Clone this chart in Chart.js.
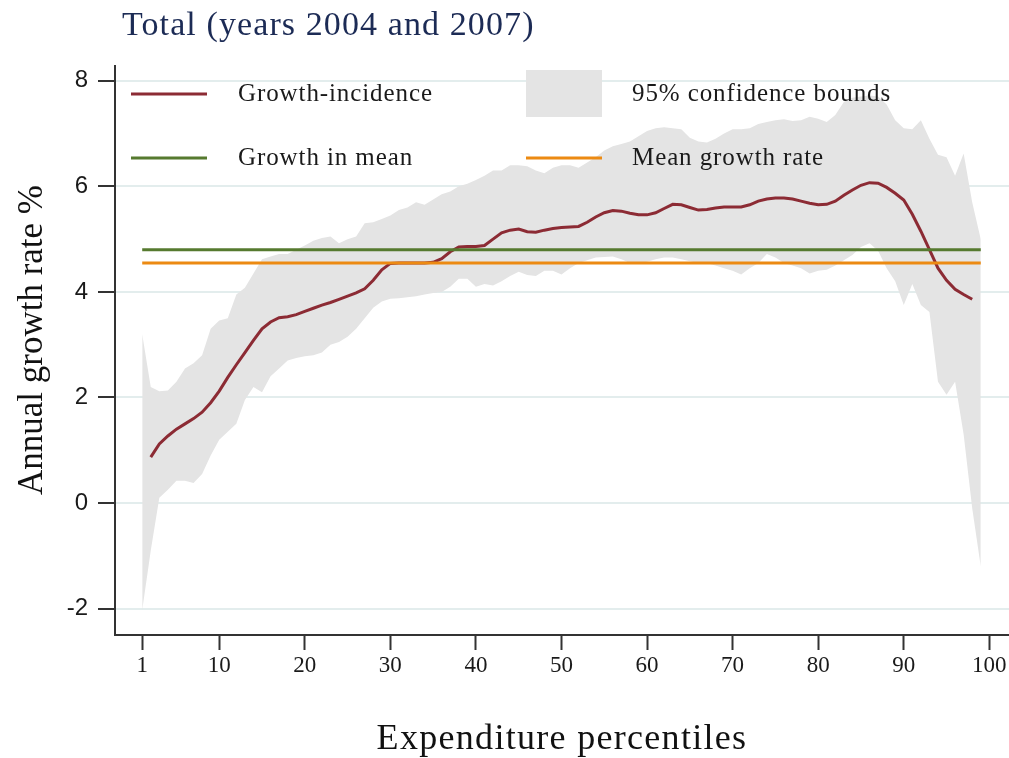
<!DOCTYPE html>
<html><head><meta charset="utf-8">
<script src="https://cdn.jsdelivr.net/npm/chart.js@4.4.1/dist/chart.umd.min.js"></script>
<style>html,body{margin:0;padding:0;background:#fff;} #wrap{width:1009px;height:758px;position:relative;}</style>
</head><body><div id="wrap"><canvas id="c" width="1009" height="758"></canvas></div>
<script>
const percentiles = [1,2,3,4,5,6,7,8,9,10,11,12,13,14,15,16,17,18,19,20,21,22,23,24,25,26,27,28,29,30,31,32,33,34,35,36,37,38,39,40,41,42,43,44,45,46,47,48,49,50,51,52,53,54,55,56,57,58,59,60,61,62,63,64,65,66,67,68,69,70,71,72,73,74,75,76,77,78,79,80,81,82,83,84,85,86,87,88,89,90,91,92,93,94,95,96,97,98,99];
const ciUpper = [3.2,2.2,2.12,2.13,2.3,2.55,2.65,2.8,3.3,3.46,3.5,3.95,4.08,4.35,4.62,4.67,4.72,4.72,4.8,4.88,4.97,5.02,5.05,4.92,5.0,5.05,5.3,5.32,5.38,5.45,5.55,5.6,5.7,5.65,5.75,5.85,5.9,6.0,6.05,6.12,6.2,6.3,6.3,6.4,6.4,6.38,6.3,6.25,6.35,6.4,6.4,6.35,6.45,6.55,6.68,6.76,6.8,6.85,6.95,7.05,7.1,7.12,7.1,7.08,6.92,6.85,6.83,6.9,7.0,7.08,7.08,7.1,7.18,7.22,7.25,7.27,7.24,7.25,7.32,7.28,7.22,7.35,7.6,7.68,7.7,7.72,7.7,7.55,7.25,7.1,7.08,7.25,6.9,6.6,6.55,6.2,6.62,5.7,5.0];
const ciLower = [-2.03,-0.9,0.1,0.25,0.42,0.42,0.38,0.55,0.9,1.2,1.35,1.5,1.95,2.2,2.1,2.4,2.55,2.7,2.75,2.78,2.8,2.85,3.0,3.05,3.15,3.3,3.5,3.7,3.82,3.87,3.88,3.9,3.92,3.95,3.98,4.0,4.1,4.25,4.25,4.1,4.15,4.12,4.2,4.3,4.38,4.32,4.3,4.4,4.4,4.33,4.45,4.55,4.6,4.65,4.66,4.67,4.62,4.55,4.55,4.57,4.62,4.65,4.65,4.62,4.58,4.55,4.55,4.5,4.45,4.4,4.33,4.45,4.55,4.72,4.65,4.55,4.5,4.45,4.35,4.4,4.42,4.5,4.6,4.7,4.85,4.92,4.78,4.45,4.2,3.75,4.15,3.75,3.62,2.3,2.05,2.3,1.3,-0.1,-1.2];
const growthIncidence = [null,0.87,1.12,1.27,1.4,1.5,1.6,1.72,1.9,2.12,2.38,2.62,2.85,3.08,3.3,3.43,3.51,3.53,3.57,3.63,3.69,3.75,3.8,3.86,3.92,3.98,4.06,4.22,4.42,4.54,4.55,4.55,4.55,4.55,4.56,4.63,4.76,4.85,4.86,4.86,4.88,5.0,5.12,5.17,5.19,5.14,5.13,5.17,5.2,5.22,5.23,5.24,5.32,5.42,5.5,5.54,5.53,5.49,5.46,5.46,5.5,5.58,5.66,5.65,5.6,5.55,5.56,5.59,5.61,5.61,5.61,5.65,5.72,5.76,5.78,5.78,5.76,5.72,5.68,5.65,5.66,5.72,5.83,5.93,6.02,6.07,6.06,5.98,5.87,5.74,5.47,5.15,4.8,4.45,4.22,4.05,3.95,3.86,null];
const growthInMean = 4.8;
const meanGrowthRate = 4.55;
const meanLineRange = [1, 99];
const xTicks = [1,10,20,30,40,50,60,70,80,90,100];
const yTicks = [-2,0,2,4,6,8];
const titleText = 'Total (years 2004 and 2007)';
const xTitle = 'Expenditure percentiles';
const yTitle = 'Annual growth rate %';
const legendLabels = ['Growth-incidence','95% confidence bounds','Growth in mean','Mean growth rate'];

const RED = '#8c2b34', GREEN = '#567a2f', ORANGE = '#ec8a12', BAND = '#e4e4e4', GRID = '#e3eded', AXIS = '#333333';
const SERIF = '"Liberation Serif", "Times New Roman", serif';
const SANS = '"Liberation Sans", Arial, sans-serif';

const pts = arr => percentiles.map((p, i) => ({x: p, y: arr[i]}));
const flat = v => meanLineRange.map(p => ({x: p, y: v}));

const overlay = {
  id: 'overlay',
  afterDatasetsDraw(chart) {
    const {ctx, chartArea: a} = chart;
    ctx.save();
    ctx.font = '25px ' + SERIF;
    ctx.letterSpacing = '0.9px';
    ctx.fillStyle = '#1a1a1a';
    ctx.textBaseline = 'middle';
    ctx.textAlign = 'left';
    const col1 = a.left + 16, col2 = a.left + 411, w = 76;
    const row1 = a.top + 28, row2 = a.top + 92;
    const line = (x, y, c) => { ctx.strokeStyle = c; ctx.lineWidth = 3; ctx.beginPath(); ctx.moveTo(x, y); ctx.lineTo(x + w, y); ctx.stroke(); };
    line(col1, row1, RED);
    ctx.fillText(legendLabels[0], col1 + 107, row1);
    ctx.fillStyle = BAND; ctx.fillRect(col2, row1 - 24, w, 47);
    ctx.fillStyle = '#1a1a1a';
    ctx.fillText(legendLabels[1], col2 + 106, row1);
    line(col1, row2, GREEN);
    ctx.fillText(legendLabels[2], col1 + 107, row2);
    line(col2, row2, ORANGE);
    ctx.fillText(legendLabels[3], col2 + 106, row2);
    ctx.restore();
  },
  afterDraw(chart) {
    const {ctx, chartArea: a} = chart;
    ctx.save();
    ctx.font = '34px ' + SERIF;
    ctx.letterSpacing = '1.1px';
    ctx.fillStyle = '#1c2b55';
    ctx.textBaseline = 'alphabetic';
    ctx.textAlign = 'left';
    ctx.fillText(titleText, 122, 35);
    ctx.fillStyle = '#111';
    ctx.font = '36px ' + SERIF;
    ctx.letterSpacing = '1.3px';
    ctx.textAlign = 'center';
    ctx.fillText(xTitle, (a.left + a.right) / 2, 749);
    ctx.letterSpacing = '0px';
    ctx.font = '35px ' + SERIF;
    ctx.translate(42, 340);
    ctx.rotate(-Math.PI / 2);
    ctx.textAlign = 'center';
    ctx.fillText(yTitle, 0, 0);
    ctx.restore();
  }
};

new Chart(document.getElementById('c'), {
  type: 'line',
  data: {
    datasets: [
      {label: 'lower', data: pts(ciLower), borderColor: 'rgba(0,0,0,0)', borderWidth: 0, pointRadius: 0, fill: false, order: 10},
      {label: legendLabels[1], data: pts(ciUpper), borderColor: 'rgba(0,0,0,0)', borderWidth: 0, pointRadius: 0, fill: '-1', backgroundColor: BAND, order: 10},
      {label: legendLabels[0], data: pts(growthIncidence), borderColor: RED, borderWidth: 3, pointRadius: 0, fill: false, order: 3, spanGaps: false},
      {label: legendLabels[2], data: flat(growthInMean), borderColor: GREEN, borderWidth: 3, pointRadius: 0, fill: false, order: 2},
      {label: legendLabels[3], data: flat(meanGrowthRate), borderColor: ORANGE, borderWidth: 3, pointRadius: 0, fill: false, order: 1}
    ]
  },
  options: {
    responsive: false,
    animation: false,
    devicePixelRatio: 1,
    layout: {padding: {top: 66, right: 0, left: 0, bottom: 0}},
    elements: {line: {tension: 0}},
    plugins: {legend: {display: false}, tooltip: {enabled: false}, title: {display: false}},
    scales: {
      x: {
        type: 'linear', min: -2.18, max: 102.3,
        afterBuildTicks: s => { s.ticks = xTicks.map(v => ({value: v})); },
        afterFit: s => { s.height = 123; },
        ticks: {font: {family: SERIF, size: 23}, color: '#1a1a1a', padding: 2, autoSkip: false, maxRotation: 0, callback: v => String(v)},
        grid: {drawOnChartArea: false, drawTicks: true, tickLength: 15, tickColor: AXIS, tickWidth: 2},
        border: {display: true, color: AXIS, width: 2},
        title: {display: false}
      },
      y: {
        type: 'linear', min: -2.5, max: 8.28,
        afterBuildTicks: s => { s.ticks = yTicks.map(v => ({value: v})); },
        afterFit: s => { s.width = 115; },
        ticks: {font: {family: SANS, size: 24}, color: '#1a1a1a', padding: 10, callback: v => String(v)},
        grid: {color: GRID, lineWidth: 2, drawTicks: true, tickLength: 17, tickColor: AXIS, tickWidth: 2},
        border: {display: true, color: AXIS, width: 2},
        title: {display: false}
      }
    }
  },
  plugins: [overlay]
});
</script></body></html>
